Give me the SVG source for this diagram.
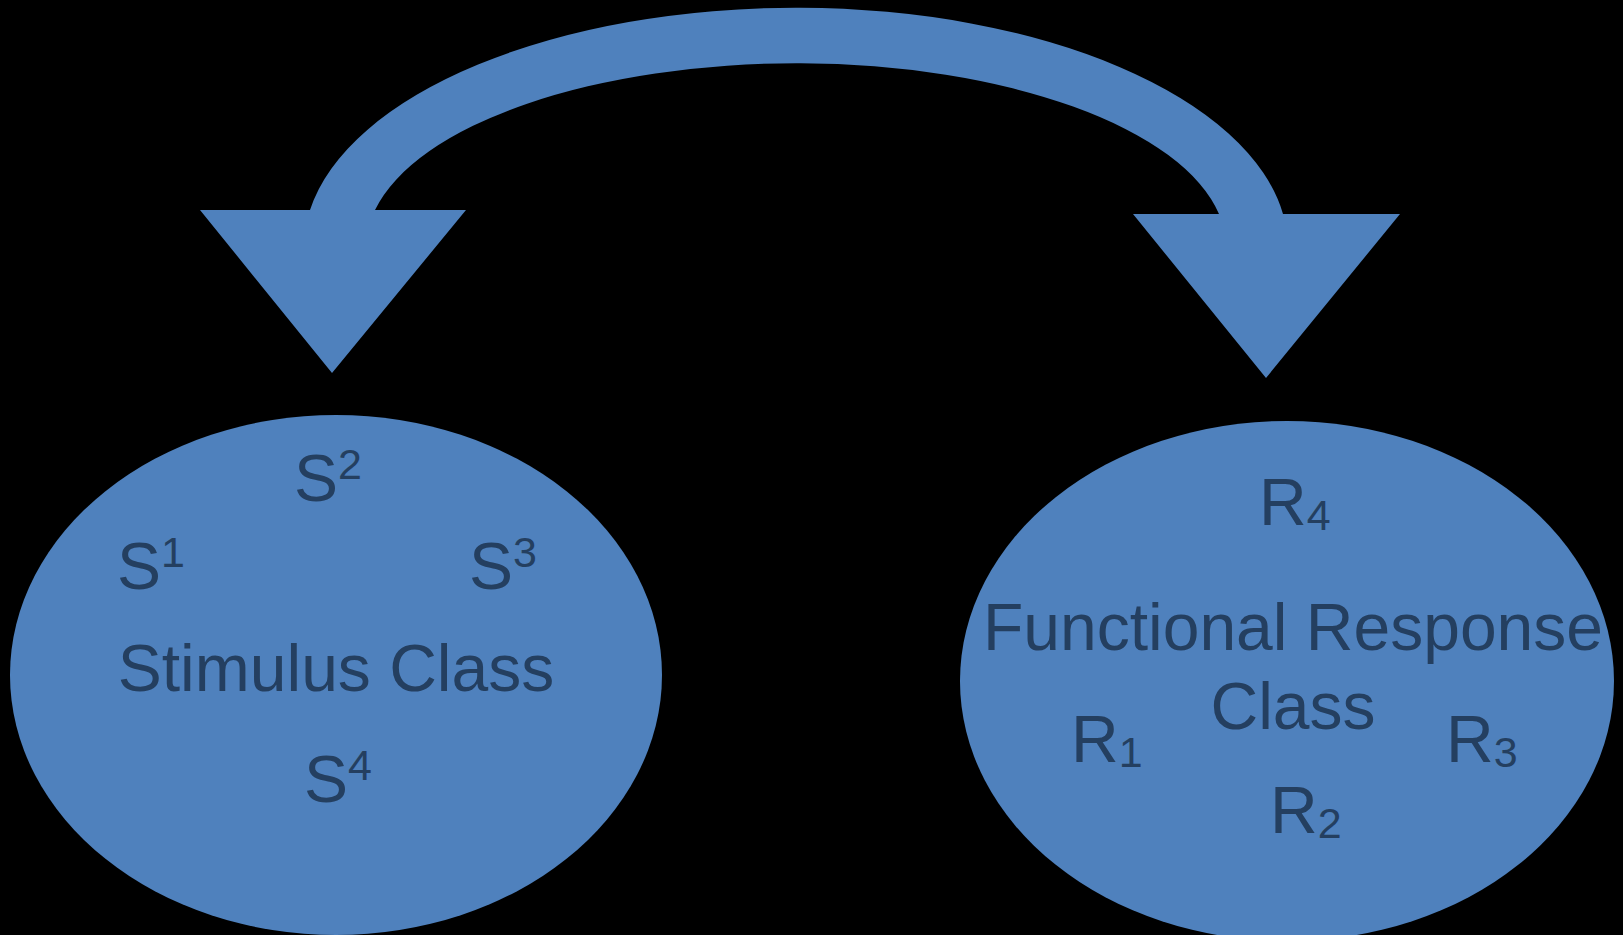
<svg xmlns="http://www.w3.org/2000/svg" width="1623" height="935" viewBox="0 0 1623 935">
<style>
.shape{fill:#4F81BD}
.t{font-family:"Liberation Sans",Arial,sans-serif;font-size:66px;fill:#243F60}
.s{font-size:43px}
</style>
<rect width="1623" height="935" fill="#000"/>
<g id="connectors">
<path class="shape" d="M310,210 A492,240 0 0 1 1283,214 L1400,214 L1266,378 L1133,214 L1219,214 A430,184 0 0 0 375,210 L466,210 L332,373 L200,210 Z"/>
</g>
<g id="stimulus-class">
<ellipse class="shape" cx="336" cy="675" rx="326" ry="260"/>
<text class="t" x="117" y="589">S<tspan class="s" dy="-22">1</tspan></text>
<text class="t" x="294" y="501">S<tspan class="s" dy="-22">2</tspan></text>
<text class="t" x="469" y="589">S<tspan class="s" dy="-22">3</tspan></text>
<text class="t" x="304" y="802">S<tspan class="s" dy="-22">4</tspan></text>
<text class="t" x="336" y="691" text-anchor="middle">Stimulus Class</text>
</g>
<g id="response-class">
<ellipse class="shape" cx="1287" cy="681" rx="327" ry="260"/>
<text class="t" x="1259" y="525">R<tspan class="s" dy="5">4</tspan></text>
<text class="t" x="1293" y="650" text-anchor="middle">Functional Response</text>
<text class="t" x="1293" y="729" text-anchor="middle">Class</text>
<text class="t" x="1071" y="762">R<tspan class="s" dy="5">1</tspan></text>
<text class="t" x="1446" y="762">R<tspan class="s" dy="5">3</tspan></text>
<text class="t" x="1270" y="833">R<tspan class="s" dy="5">2</tspan></text>
</g>
</svg>
